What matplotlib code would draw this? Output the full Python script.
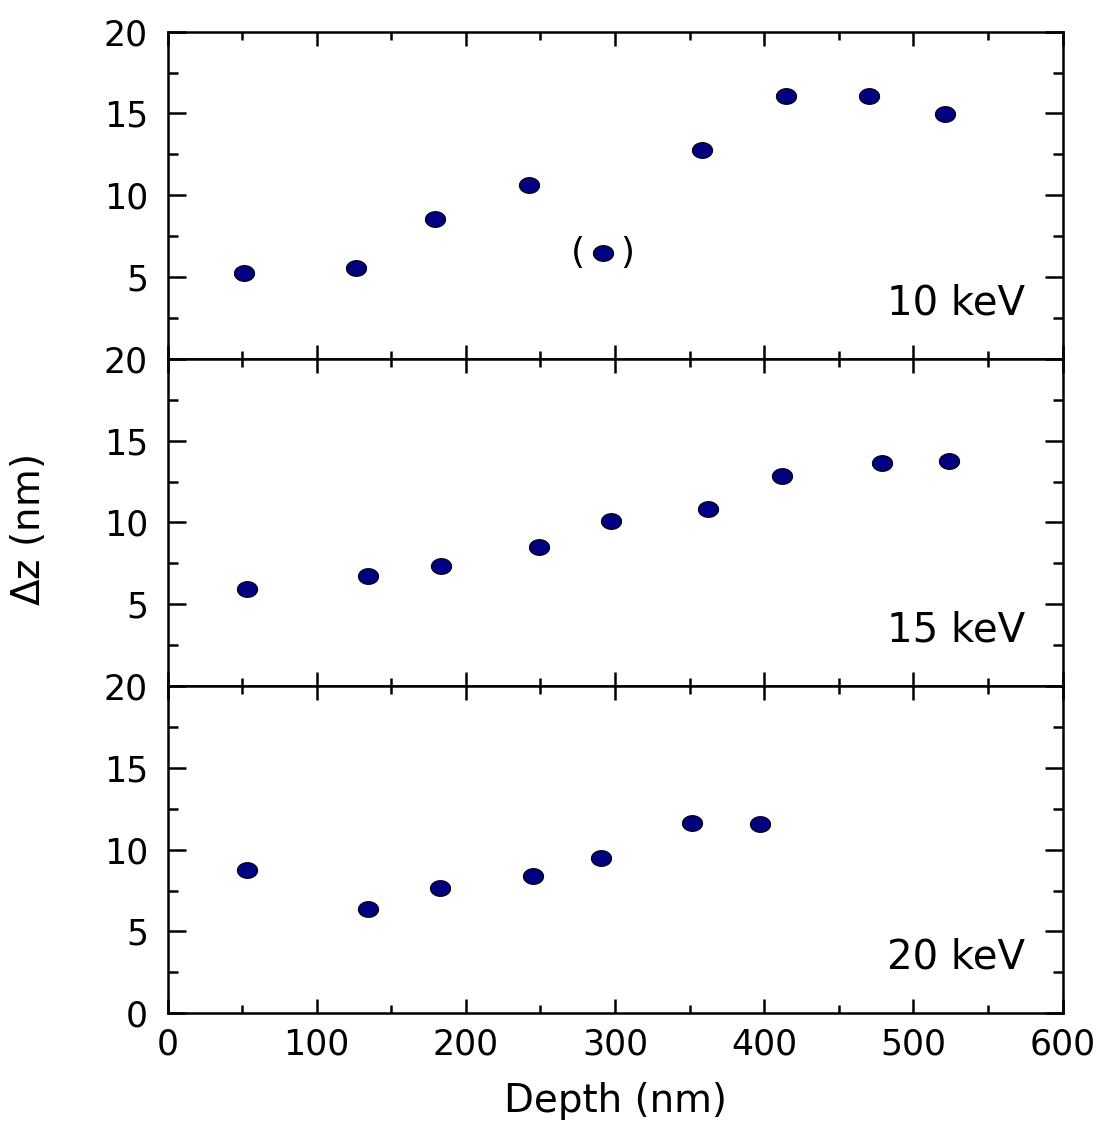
import matplotlib
matplotlib.use('Agg')
import matplotlib.pyplot as plt
import numpy as np
from matplotlib.path import Path
from matplotlib.ticker import MultipleLocator

plt.rcParams['font.family'] = ['DejaVu Sans']

# depth (nm) and delta z (nm) for each beam energy
depth_10 = [51.3, 126.2, 179.5, 242.1, 292.2, 358.5, 414.4, 470.5, 521.2]
dz_10 = [5.26, 5.56, 8.57, 10.6, 6.46, 12.76, 16.07, 16.07, 14.99]

depth_15 = [53.5, 134.4, 183.3, 249.3, 297.1, 362.1, 412.2, 478.8, 524.1]
dz_15 = [5.91, 6.72, 7.33, 8.52, 10.1, 10.84, 12.83, 13.65, 13.73]

depth_20 = [53.5, 134.4, 182.5, 245.2, 290.6, 351.4, 397.2]
dz_20 = [8.77, 6.37, 7.67, 8.37, 9.47, 11.64, 11.56]

energies = ["10 keV", "15 keV", "20 keV"]
bracketed = (292.2, 6.46)  # questionable 10 keV point shown in ( )

# slightly flattened circle marker
t = np.linspace(0, 2 * np.pi, 60)
ellipse = Path(np.column_stack([np.cos(t), 0.78 * np.sin(t)]), closed=True)

fig = plt.figure(figsize=(10.98, 11.21), dpi=100)
left, width = 0.1526, 0.8151
bottom, height = 0.0961, 0.2919

datasets = [(depth_10, dz_10), (depth_15, dz_15), (depth_20, dz_20)]
axes = []
for i, (xs, ys) in enumerate(datasets):
    ax = fig.add_axes([left, bottom + (2 - i) * height, width, height])
    axes.append(ax)
    ax.plot(xs, ys, linestyle='none', marker=ellipse, markersize=14.5,
            markerfacecolor='#000080', markeredgecolor='black', markeredgewidth=0.8)
    ax.set_xlim(0, 600)
    ax.set_ylim(0, 20)
    ax.xaxis.set_major_locator(MultipleLocator(100))
    ax.xaxis.set_minor_locator(MultipleLocator(50))
    ax.yaxis.set_major_locator(MultipleLocator(5))
    ax.yaxis.set_minor_locator(MultipleLocator(2.5))
    ax.tick_params(which='both', direction='in', top=True, right=True, width=1.8,
                   labelsize=25)
    ax.tick_params(axis='x', which='major', length=10, pad=10)
    ax.tick_params(axis='x', which='minor', length=6)
    ax.tick_params(axis='y', which='major', length=13, pad=14)
    ax.tick_params(axis='y', which='minor', length=7.5)
    for sp in ax.spines.values():
        sp.set_linewidth(1.8)
    if i < 2:
        ax.set_yticks([5, 10, 15, 20])
        ax.tick_params(axis='x', labelbottom=False)
    else:
        ax.set_yticks([0, 5, 10, 15, 20])
    ax.text(0.958, 0.17, energies[i], transform=ax.transAxes, fontsize=29,
            ha='right', va='center')

axes[0].annotate('(', bracketed, xytext=(-18, 0), textcoords='offset points',
                 fontsize=26, ha='center', va='center')
axes[0].annotate(')', bracketed, xytext=(17, 0), textcoords='offset points',
                 fontsize=26, ha='center', va='center')

fig.text(0.561, 0.018, 'Depth (nm)', fontsize=28, ha='center', va='center')
fig.text(0.026, 0.527, r'$\Delta$z (nm)', rotation=90, fontsize=28,
         ha='center', va='center')

fig.savefig('out.png', dpi=100)
